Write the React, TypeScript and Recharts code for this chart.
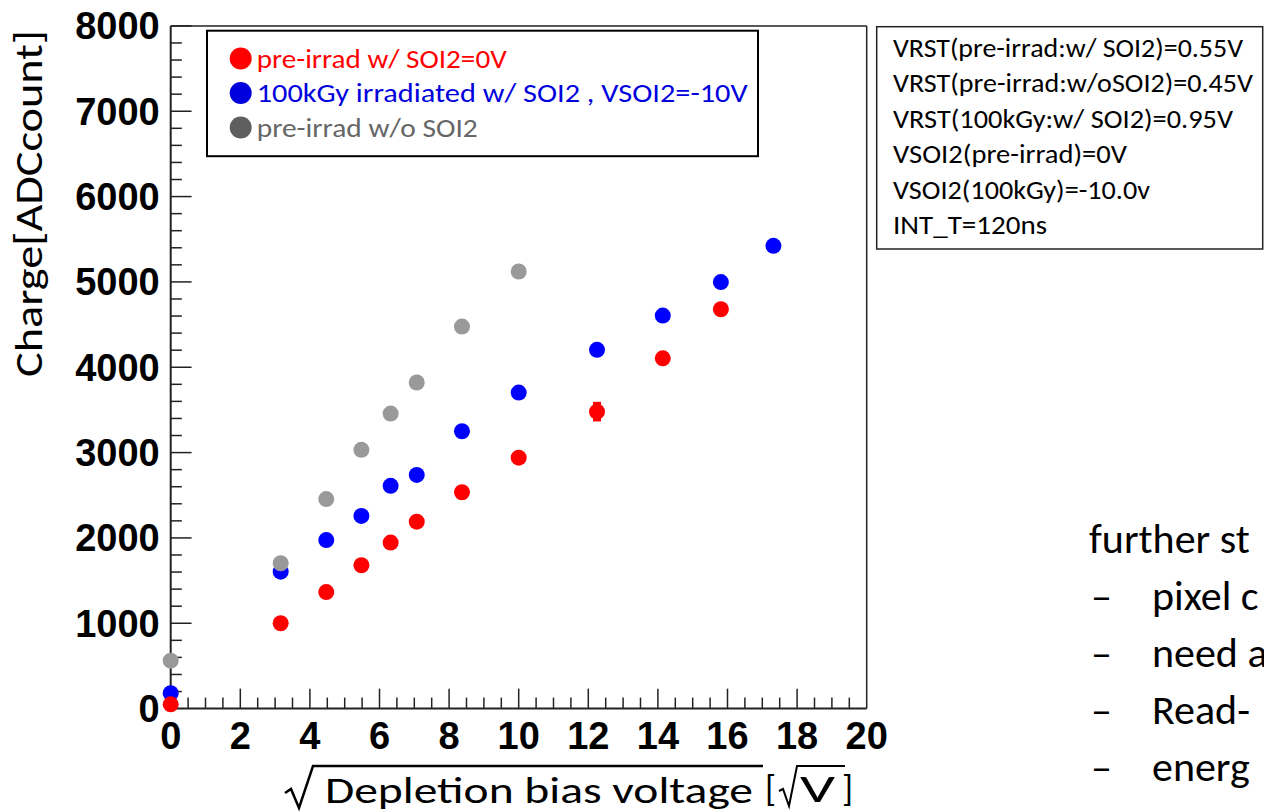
import React from 'react';
import { ScatterChart, Scatter, XAxis, YAxis, ErrorBar, ReferenceLine } from 'recharts';

// sqrt of the depletion bias voltage [sqrt(V)]
const sqrtBias = [0, 3.16, 4.47, 5.48, 6.32, 7.07, 8.37, 10, 12.25, 14.14, 15.81, 17.32];

// charge [ADC count] per sample
const preIrradSoi2 = [50, 1000, 1365, 1680, 1945, 2190, 2535, 2940, 3480, 4105, 4680];
const preIrradSoi2Err = [0, 0, 0, 0, 0, 0, 0, 0, 115, 0, 0];
const irrad100kGy = [180, 1605, 1975, 2258, 2610, 2738, 3250, 3703, 4204, 4606, 4998, 5423];
const preIrradNoSoi2 = [562, 1703, 2455, 3032, 3457, 3821, 4477, 5122];

const legendLabels = [
  'pre-irrad w/ SOI2=0V',
  '100kGy irradiated w/ SOI2 , VSOI2=-10V',
  'pre-irrad w/o SOI2',
];

const infoLines = [
  'VRST(pre-irrad:w/ SOI2)=0.55V',
  'VRST(pre-irrad:w/oSOI2)=0.45V',
  'VRST(100kGy:w/ SOI2)=0.95V',
  'VSOI2(pre-irrad)=0V',
  'VSOI2(100kGy)=-10.0v',
  'INT_T=120ns',
];

const noteLines = ['pixel c', 'need a', 'Read-', 'energ'];

const xTicks: number[] = [];
for (let i = 0; i <= 40; i++) xTicks.push(i * 0.5);
const yTicks: number[] = [];
for (let i = 0; i <= 40; i++) yTicks.push(i * 200);

const toPoints = (ys: number[], errs?: number[]) =>
  ys.map((y, i) => ({ x: sqrtBias[i], y, err: errs ? errs[i] : 0 }));

const redPts = toPoints(preIrradSoi2, preIrradSoi2Err);
const bluePts = toPoints(irrad100kGy);
const grayPts = toPoints(preIrradNoSoi2);

const RED = '#ff0000';
const BLUE = '#0000ff';
const GRAY = '#999999';
const AXIS = '#222';
const SANS = 'Calibri, Carlito, Lato, sans-serif';
const BOLD = '"Liberation Sans", Arial, Helvetica, sans-serif';

const PLOT_L = 170.7;
const PLOT_R = 866.7;
const PLOT_T = 25.9;
const PLOT_B = 708.6;
const Y_W = 100;
const X_H = 60;

// inward tick lengths, in axis units (ROOT style ticks inside the frame)
const Y_MAJOR_LEN = 0.6;
const Y_MINOR_LEN = 0.32;
const X_MAJOR_LEN = 234;
const X_MINOR_LEN = 129;

const dot = (color: string) => (p: any) => <circle cx={p.cx} cy={p.cy} r={8} fill={color} />;

const XTick = (props: any) => {
  const { x, y, payload } = props;
  const v = Number(payload.value);
  if (v % 2 !== 0) return <g />;
  return (
    <text x={x} y={y + 40} textAnchor="middle" fontFamily={BOLD} fontWeight="bold" fontSize={38} fill="#000">
      {v}
    </text>
  );
};

const YTick = (props: any) => {
  const { x, y, payload } = props;
  const v = Number(payload.value);
  if (v % 1000 !== 0) return <g />;
  return (
    <text x={x - 11} y={y + 13.5} textAnchor="end" fontFamily={BOLD} fontWeight="bold" fontSize={38} fill="#000">
      {v}
    </text>
  );
};

const legendStyle = [
  { marker: '#ff0000', text: '#ff0000', len: 250 },
  { marker: '#0000dd', text: '#0000dd', len: 491 },
  { marker: '#5f5f5f', text: '#666666', len: 221 },
];
const legendBaselines = [67.5, 102, 136.5];

const infoLens = [350, 360, 340, 234, 257, 154];
const infoBaselines = [56.5, 92, 127.5, 163, 198.5, 234];

const noteBaselines = [610, 667, 724, 781];

export default function App() {
  return (
    <div style={{ position: 'absolute', left: 0, top: 0, width: 1264, height: 812, background: '#fff', overflow: 'hidden' }}>
      <ScatterChart
        width={1264}
        height={812}
        margin={{ top: PLOT_T, right: 1264 - PLOT_R, bottom: 812 - PLOT_B - X_H, left: PLOT_L - Y_W }}
      >
        <XAxis
          type="number"
          dataKey="x"
          domain={[0, 20]}
          ticks={xTicks}
          interval={0}
          tick={<XTick />}
          tickLine={false}
          tickSize={0}
          tickMargin={0}
          height={X_H}
          axisLine={{ stroke: AXIS, strokeWidth: 2 }}
        />
        <YAxis
          type="number"
          dataKey="y"
          domain={[0, 8000]}
          ticks={yTicks}
          interval={0}
          tick={<YTick />}
          tickLine={false}
          tickSize={0}
          tickMargin={0}
          width={Y_W}
          axisLine={{ stroke: AXIS, strokeWidth: 2 }}
        />
        <ReferenceLine x={20} stroke={AXIS} strokeWidth={1.5} />
        <ReferenceLine y={8000} stroke={AXIS} strokeWidth={1.5} />
        {xTicks
          .filter((t) => t > 0 && t < 20)
          .map((t) => (
            <ReferenceLine
              key={`xt-${t}`}
              segment={[
                { x: t, y: 0 },
                { x: t, y: t % 2 === 0 ? X_MAJOR_LEN : X_MINOR_LEN },
              ]}
              stroke={AXIS}
              strokeWidth={1.5}
            />
          ))}
        {yTicks
          .filter((t) => t > 0)
          .map((t) => (
            <ReferenceLine
              key={`yt-${t}`}
              segment={[
                { x: 0, y: t },
                { x: t % 1000 === 0 ? Y_MAJOR_LEN : Y_MINOR_LEN, y: t },
              ]}
              stroke={AXIS}
              strokeWidth={1.5}
            />
          ))}
        <Scatter data={bluePts} shape={dot(BLUE)} isAnimationActive={false} />
        <Scatter data={grayPts} shape={dot(GRAY)} isAnimationActive={false} />
        <Scatter data={redPts} shape={dot(RED)} isAnimationActive={false}>
          <ErrorBar dataKey="err" direction="y" width={0} stroke={RED} strokeWidth={8} />
        </Scatter>
      </ScatterChart>

      <svg width={1264} height={812} style={{ position: 'absolute', left: 0, top: 0, pointerEvents: 'none' }}>
        {/* axis titles */}
        <g transform="translate(41.7, 203.5) rotate(-90)">
          <text x={0} y={0} textAnchor="middle" fontFamily={SANS} fontSize={38} fill="#000" textLength={347} lengthAdjust="spacingAndGlyphs">
            Charge[ADCcount]
          </text>
        </g>
        <path d="M285,793 L291,789 L299,808 L313,766 L763,766" fill="none" stroke="#000" strokeWidth={2.5} strokeLinejoin="miter" />
        <text x={325} y={803} fontFamily={SANS} fontSize={37} fill="#000" textLength={428} lengthAdjust="spacingAndGlyphs">
          Depletion bias voltage
        </text>
        <text x={765} y={801} fontFamily={SANS} fontSize={36} fill="#000">[</text>
        <path d="M779,791 L783,789 L789,806 L797,766 L845,766" fill="none" stroke="#000" strokeWidth={2} strokeLinejoin="miter" />
        <text x={800} y={802} fontFamily={SANS} fontSize={38} fill="#000" textLength={35} lengthAdjust="spacingAndGlyphs">V</text>
        <text x={842} y={801} fontFamily={SANS} fontSize={36} fill="#000">]</text>

        {/* legend */}
        <rect x={207} y={30.7} width={551} height={125.5} fill="#fff" stroke="#000" strokeWidth={2} />
        {legendLabels.map((label, i) => (
          <g key={label}>
            <circle cx={240.7} cy={legendBaselines[i] - 9} r={11} fill={legendStyle[i].marker} />
            <text
              x={256.7}
              y={legendBaselines[i]}
              fontFamily={SANS}
              fontSize={27}
              fill={legendStyle[i].text}
              textLength={legendStyle[i].len}
              lengthAdjust="spacingAndGlyphs"
            >
              {label}
            </text>
          </g>
        ))}

        {/* run conditions */}
        <rect x={876.7} y={26.7} width={386} height={222.3} fill="#fff" stroke="#222" strokeWidth={1.5} />
        {infoLines.map((line, i) => (
          <text
            key={line}
            x={893}
            y={infoBaselines[i]}
            fontFamily={SANS}
            fontSize={26}
            fill="#000"
            textLength={infoLens[i]}
            lengthAdjust="spacingAndGlyphs"
          >
            {line}
          </text>
        ))}

        {/* notes */}
        <text x={1089} y={553} fontFamily={SANS} fontSize={42} fill="#000">further st</text>
        {noteLines.map((line, i) => (
          <g key={line}>
            <text x={1091} y={noteBaselines[i]} fontFamily={SANS} fontSize={42} fill="#000">–</text>
            <text x={1152} y={noteBaselines[i]} fontFamily={SANS} fontSize={42} fill="#000">{line}</text>
          </g>
        ))}
      </svg>
    </div>
  );
}
